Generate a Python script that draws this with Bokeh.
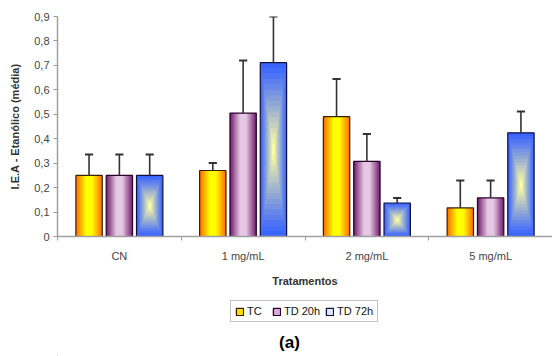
import numpy as np
from bokeh.plotting import figure
from bokeh.layouts import column
from bokeh.models import (Range1d, FixedTicker, CustomJSTickFormatter, Legend, LegendItem, Label)
from bokeh.embed import file_html
from bokeh.resources import INLINE

categories = ["CN", "1 mg/mL", "2 mg/mL", "5 mg/mL"]
series = ["TC", "TD 20h", "TD 72h"]
tc = [0.25, 0.27, 0.49, 0.117]
tc_err = [0.085, 0.031, 0.154, 0.112]
td20 = [0.25, 0.505, 0.307, 0.158]
td20_err = [0.085, 0.215, 0.112, 0.071]
td72 = [0.25, 0.711, 0.137, 0.424]
td72_err = [0.085, 0.189, 0.021, 0.087]
y_ticks = [0, 0.1, 0.2, 0.3, 0.4, 0.5, 0.6, 0.7, 0.8, 0.9]

FONT = "Liberation Sans"
W, H1, H2 = 552, 300, 56
LEFT = 57
p = figure(width=W, height=H1, output_backend="svg", toolbar_location=None,
           x_range=Range1d(0, 4), y_range=Range1d(0, 0.9),
           min_border_left=LEFT, min_border_right=0, min_border_top=16, min_border_bottom=64)
p.outline_line_color = None
p.xgrid.visible = False
p.ygrid.visible = False
p.background_fill_color = "white"

def hex2rgb(h):
    h = h.lstrip("#")
    return np.array([int(h[i:i + 2], 16) for i in (0, 2, 4)], dtype=float)

def lerp(c1, c2, t):
    a, b = hex2rgb(c1), hex2rgb(c2)
    c = a + (b - a) * t
    return "#%02x%02x%02x" % tuple(int(round(v)) for v in c)

n_cat = len(categories)
xc = np.arange(n_cat) + 0.5
offsets = [-0.245, 0.0, 0.245]
bw = 0.213
cap = 0.033
vals = [tc, td20, td72]
errs = [tc_err, td20_err, td72_err]
edge_cols = ["#ff7000", "#74226f", "#3a64ff"]
center_cols = ["#ffff00", "#e6c8e4", "#ffffa0"]
outline_cols = ["#3a2000", "#2a002a", "#101040"]

N = 16
for si in range(3):
    x = xc + offsets[si]
    top = np.array(vals[si], dtype=float)
    if si < 2:
        for k in range(N):
            s = 1 - k / N
            t = min(1.0, (k / (N - 1)) / 0.8)
            p.vbar(x=x, top=top, width=bw * s, fill_color=lerp(edge_cols[si], center_cols[si], t),
                   line_color=None)
    else:
        for k in range(N):
            s = 1 - k / N
            t = (k / (N - 1)) ** 1.1
            p.rect(x=x, y=top / 2, width=bw * s, height=top * s,
                   fill_color=lerp(edge_cols[si], center_cols[si], t), line_color=None)
    p.vbar(x=x, top=top, width=bw, fill_alpha=0, line_color=outline_cols[si], line_width=1.2)
    e = np.array(errs[si], dtype=float)
    p.segment(x0=x, y0=top, x1=x, y1=top + e, line_color="#333333", line_width=1.6)
    p.segment(x0=x - cap, y0=top + e, x1=x + cap, y1=top + e, line_color="#333333", line_width=2)

# axes
xa = p.xaxis[0]
xa.ticker = FixedTicker(ticks=list(xc), minor_ticks=list(range(n_cat + 1)))
xa.formatter = CustomJSTickFormatter(args=dict(labels=categories),
                                     code="return labels[Math.round(tick - 0.5)];")
xa.major_tick_out = 0
xa.major_tick_in = 0
xa.minor_tick_out = 4
xa.minor_tick_in = 0
xa.minor_tick_line_color = "#999999"
xa.axis_line_color = "#a0a0a0"
xa.axis_line_width = 1.5
xa.major_label_text_font = FONT
xa.major_label_text_font_size = "11px"
xa.major_label_text_color = "#444444"
xa.major_label_standoff = 9
xa.axis_label = "Tratamentos"
xa.axis_label_text_font = FONT
xa.axis_label_text_font_size = "11px"
xa.axis_label_text_font_style = "bold"
xa.axis_label_text_color = "#333333"
xa.axis_label_standoff = 10

ya = p.yaxis[0]
ya.ticker = FixedTicker(ticks=y_ticks)
ya.formatter = CustomJSTickFormatter(code="return tick < 1e-9 ? '0' : tick.toFixed(1).replace('.', ',');")
ya.major_tick_out = 4
ya.major_tick_in = 0
ya.minor_tick_out = 0
ya.minor_tick_in = 0
ya.major_tick_line_color = "#999999"
ya.axis_line_color = "#a0a0a0"
ya.axis_line_width = 1.5
ya.major_label_text_font = FONT
ya.major_label_text_font_size = "11px"
ya.major_label_text_color = "#444444"
ya.major_label_standoff = 4
ya.axis_label = "I.E.A - Etanólico (média)"
ya.axis_label_text_font = FONT
ya.axis_label_text_font_size = "11px"
ya.axis_label_text_font_style = "bold"
ya.axis_label_text_color = "#333333"
ya.axis_label_standoff = 10

# bottom strip: legend and panel tag (frame aligned with the chart above)
p2 = figure(width=W, height=H2, output_backend="svg", toolbar_location=None,
            x_range=Range1d(LEFT, W), y_range=Range1d(0, H2),
            x_axis_location=None, y_axis_location=None,
            min_border_left=LEFT, min_border_right=0, min_border_top=0, min_border_bottom=0)
p2.grid.visible = False
p2.outline_line_color = None

# legend proxies (zero-size, outside the strip)
leg_fill = ["#ffdd00", "#d8a8d8", "#dfe6ff"]
leg_r = []
for si in range(3):
    r = p2.vbar(x=[-1000], top=[-1000], bottom=[-1000], width=0, fill_color=leg_fill[si],
                line_color=outline_cols[si], line_width=1.3)
    leg_r.append(r)

legend = Legend(items=[LegendItem(label=series[i], renderers=[leg_r[i]]) for i in range(3)],
                orientation="horizontal", location=(230 - LEFT, 34),
                border_line_color="#888888", border_line_width=1,
                label_text_font=FONT, label_text_font_size="11px", label_text_color="#111111",
                glyph_width=9, glyph_height=9, spacing=5, padding=4, margin=0,
                label_standoff=3, label_height=11, background_fill_color="white")
p2.add_layout(legend, "center")

p2.add_layout(Label(x=289, y=14, text="(a)", text_font=FONT, text_font_size="17px",
                    text_font_style="bold", text_align="center", text_baseline="middle",
                    text_color="#000000"))

layout = column(p, p2, spacing=0)
open("out.html", "w").write(file_html(layout, INLINE))
